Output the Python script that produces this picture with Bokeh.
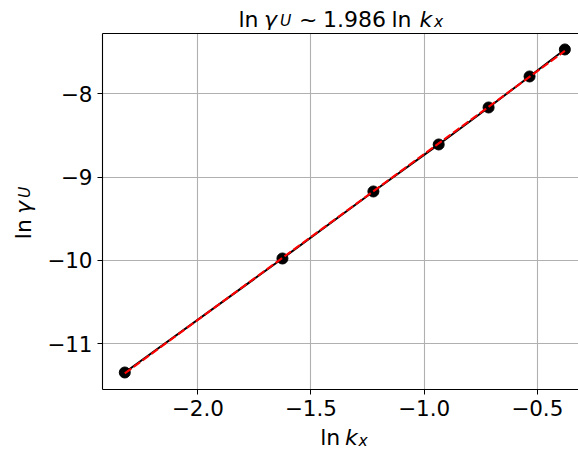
import math
import numpy as np
from bokeh.plotting import figure
from bokeh.layouts import row, column
from bokeh.models import Range1d, FixedTicker, CustomJSTickFormatter, LinearAxis
from bokeh.core.properties import value
from bokeh.embed import file_html
from bokeh.resources import INLINE

# ---- data ----
ln_kx = [-2.3226, -1.626, -1.224, -0.9355, -0.715, -0.534, -0.378]
ln_gamma_u = [-11.344, -9.976, -9.172, -8.608, -8.164, -7.792, -7.468]
x_ticks = [-2.0, -1.5, -1.0, -0.5]
y_ticks = [-11, -10, -9, -8]
slope_text = "1.986"

# linear fit of the data
coef = np.polyfit(ln_kx, ln_gamma_u, 1)
fit_x = [min(ln_kx), max(ln_kx)]
fit_y = [coef[0] * v + coef[1] for v in fit_x]

# ---- layout (page pixels) ----
W, H = 578, 452
LEFT_W = 40          # width of the y-label strip
TOP_H = 30           # height of the title strip
BOT_Y = 426          # page y where the x-label strip starts
FL, FR, FT, FB = 102, 578, 33, 389   # plot frame on the page
X0, X1 = -2.4211, -0.3177
Y0, Y1 = -11.548, -7.2764
FONT = "DejaVu Sans"
SUB = "15.5px"
BASE_FIX = 6.5       # correction of the text glyph's baseline placement
BASE_FIX_ROT = 9.0

p = figure(width=W - LEFT_W, height=BOT_Y - TOP_H, output_backend="svg", toolbar_location=None,
           x_range=Range1d(X0, X1), y_range=Range1d(Y0, Y1),
           min_border_left=FL - LEFT_W, min_border_right=W - FR,
           min_border_top=FT - TOP_H, min_border_bottom=BOT_Y - FB,
           background_fill_color="white", border_fill_color="white",
           frame_align=False)
p.outline_line_color = None

for ax, ticks, fmt in ((p.xaxis[0], x_ticks, "return (tick < 0 ? '\\u2212' : '') + Math.abs(tick).toFixed(1);"),
                       (p.yaxis[0], y_ticks, "return (tick < 0 ? '\\u2212' : '') + Math.abs(tick).toFixed(0);")):
    ax.ticker = FixedTicker(ticks=ticks)
    ax.formatter = CustomJSTickFormatter(code=fmt)
    ax.major_label_text_font = FONT
    ax.major_label_text_font_size = "21.5px"
    ax.major_label_text_color = "black"
    ax.major_tick_out = 5
    ax.major_tick_in = 0
    ax.major_tick_line_color = "black"
    ax.major_tick_line_width = 1
    ax.minor_tick_line_color = None
    ax.axis_line_color = "black"
    ax.axis_line_width = 1.1
    ax.major_label_standoff = 5

top = LinearAxis(ticker=FixedTicker(ticks=[]), major_label_text_font_size="0px",
                 major_tick_line_color=None, minor_tick_line_color=None,
                 major_tick_out=0, major_tick_in=0, major_label_standoff=0,
                 axis_line_color="black", axis_line_width=1.1)
p.add_layout(top, "above")

p.xgrid.ticker = FixedTicker(ticks=x_ticks)
p.ygrid.ticker = FixedTicker(ticks=y_ticks)
for g in (p.xgrid[0], p.ygrid[0]):
    g.grid_line_color = "#b0b0b0"
    g.grid_line_width = 1.1

p.scatter(ln_kx, ln_gamma_u, size=11, color="black")
p.line(ln_kx, ln_gamma_u, line_color="black", line_width=2.1)
p.line(fit_x, fit_y, line_color="red", line_width=2.1, line_dash="8 3")


def strip(w, h):
    f = figure(width=w, height=h, output_backend="svg", toolbar_location=None,
               x_range=Range1d(0, w), y_range=Range1d(h, 0),
               x_axis_type=None, y_axis_type=None, min_border=0,
               background_fill_color="white", border_fill_color="white",
               frame_align=False)
    f.outline_line_color = None
    f.grid.visible = False
    return f


def put(f, ox, oy, text, px, py, size="22px", italic=False, angle=0.0):
    if angle:
        px -= BASE_FIX_ROT
    else:
        py -= BASE_FIX
    f.text(x=[px - ox], y=[py - oy], text=[text], text_font=value(FONT),
           text_font_size=value(size), text_font_style="italic" if italic else "normal",
           text_color="black", text_align="left", text_baseline="alphabetic", angle=angle)


# title strip: ln γ_U ~ 1.986 ln k_x
t = strip(W - LEFT_W, TOP_H)
put(t, LEFT_W, 0, "ln", 238, 25)
put(t, LEFT_W, 0, "γ", 263.5, 25, italic=True)
put(t, LEFT_W, 0, "U", 279.5, 26.7, size=SUB, italic=True)
put(t, LEFT_W, 0, "~", 298.5, 25)
put(t, LEFT_W, 0, slope_text, 322.6, 25)
put(t, LEFT_W, 0, "ln", 391, 25)
put(t, LEFT_W, 0, "k", 419, 25, italic=True)
put(t, LEFT_W, 0, "x", 433.5, 28.3, size=SUB, italic=True)

# x-label strip: ln k_x
xl = strip(W - LEFT_W, H - BOT_Y)
put(xl, LEFT_W, BOT_Y, "ln", 319.7, 443.3)
put(xl, LEFT_W, BOT_Y, "k", 344.5, 443.3, italic=True)
put(xl, LEFT_W, BOT_Y, "x", 358, 446.7, size=SUB, italic=True)

# y-label strip: ln γ_U (rotated)
yl = strip(LEFT_W, H)
R = math.pi / 2
put(yl, 0, 0, "ln", 31.7, 238.7, angle=R)
put(yl, 0, 0, "γ", 31.7, 213.5, italic=True, angle=R)
put(yl, 0, 0, "U", 33.4, 197.5, size=SUB, italic=True, angle=R)

layout = row(yl, column(t, p, xl))
open("out.html", "w").write(file_html(layout, INLINE))
